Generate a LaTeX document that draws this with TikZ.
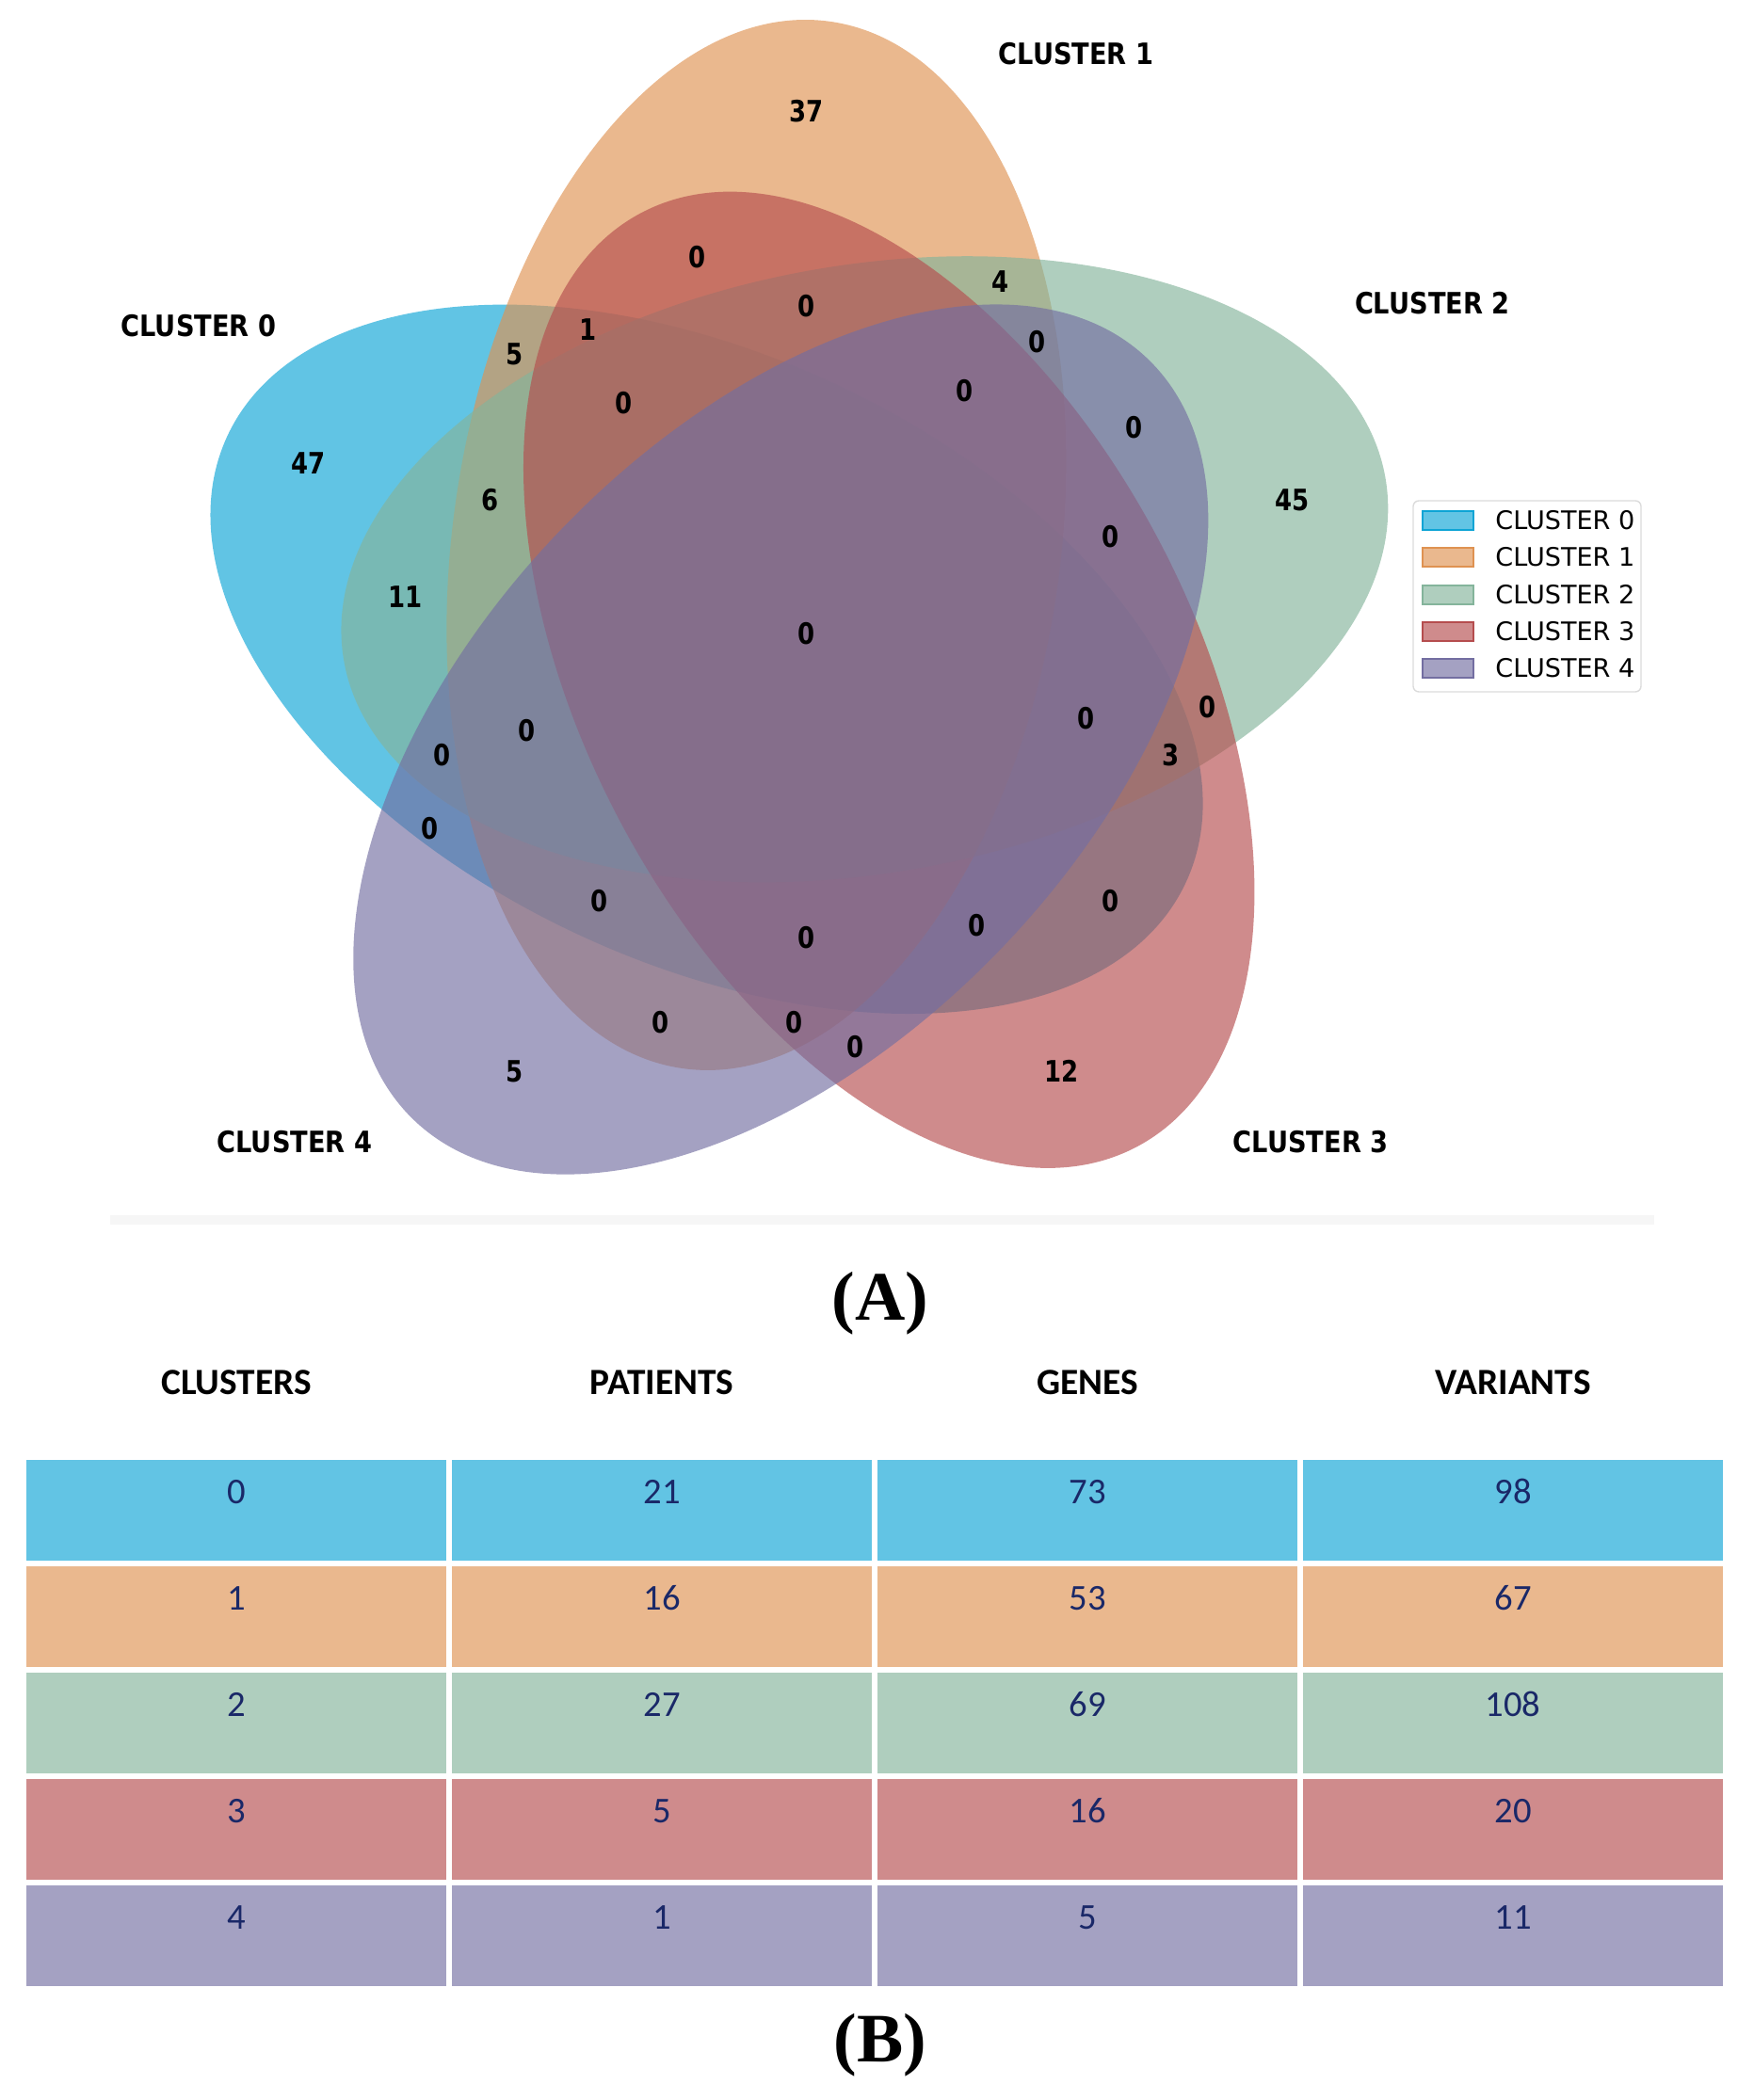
\documentclass[tikz,border=0pt]{standalone}
\usepackage{fontspec}
\setmainfont{Carlito}
\newfontfamily\vennfont[FakeStretch=0.83]{DejaVu Sans}
\newfontfamily\namefont[FakeStretch=0.87]{DejaVu Sans}
\newfontfamily\legfont{DejaVu Sans}
\newfontfamily\capfont{Liberation Serif}
\usetikzlibrary{positioning}
\usepackage{xcolor}

% set colours (drawn at 65% opacity) and the flat table colours
\definecolor{cl0}{RGB}{13,164,213}
\definecolor{cl1}{RGB}{223,146,81}
\definecolor{cl2}{RGB}{132,180,155}
\definecolor{cl3}{RGB}{181,77,78}
\definecolor{cl4}{RGB}{115,110,161}
\definecolor{tb0}{RGB}{98,196,228}
\definecolor{tb1}{RGB}{234,184,142}
\definecolor{tb2}{RGB}{175,206,190}
\definecolor{tb3}{RGB}{207,139,140}
\definecolor{tb4}{RGB}{164,161,194}
\definecolor{navy}{RGB}{26,40,104}
\definecolor{sepgray}{RGB}{246,246,246}

\begin{document}
\begin{tikzpicture}%
    [venn/.style={fill opacity=0.65},
    count/.style={font=\vennfont\bfseries\fontsize{8.9}{10}\selectfont, inner sep=1pt},
    setname/.style={font=\namefont\bfseries\fontsize{8.9}{10}\selectfont, inner sep=1pt},
    legframe/.style={draw=black!14, fill=white, rounded corners=0.06cm, minimum width=2.42cm, minimum height=2.03cm},
    legbox/.style={minimum width=0.54cm, minimum height=0.2cm, inner sep=0, line width=0.4pt},
    legtext/.style={font=\legfont\fontsize{7.7}{9}\selectfont, inner sep=0},
    head/.style={font=\bfseries\fontsize{11.2}{13}\selectfont},
    cell/.style={minimum width=4.46cm, minimum height=1.07cm, inner xsep=0, inner ysep=0,
                 text height=0.47cm, text depth=0.60cm, text=navy, font=\fontsize{11}{13}\selectfont},
    panel/.style={font=\capfont\bfseries\fontsize{21}{24}\selectfont}
    ]
    \useasboundingbox (0,0) rectangle (18.63,22.31);

    % ---- (A) five set venn ----
    \begin{scope}[shift={(1.98,9.51)}, x=12.91cm, y=12.91cm]
    \fill[venn, fill=cl0, shift={(0.428,0.449)}, rotate=155] (0,0) ellipse [x radius=0.435, y radius=0.25];
    \fill[venn, fill=cl1, shift={(0.469,0.543)}, rotate=82]  (0,0) ellipse [x radius=0.435, y radius=0.25];
    \fill[venn, fill=cl2, shift={(0.558,0.523)}, rotate=10]  (0,0) ellipse [x radius=0.435, y radius=0.25];
    \fill[venn, fill=cl3, shift={(0.578,0.432)}, rotate=118] (0,0) ellipse [x radius=0.435, y radius=0.25];
    \fill[venn, fill=cl4, shift={(0.489,0.383)}, rotate=46]  (0,0) ellipse [x radius=0.435, y radius=0.25];

    % REGION            POSITION         COUNT
    \node[count] (r00001) at (0.27,0.11) {5};
    \node[count] (r00010) at (0.72,0.11) {12};
    \node[count] (r00011) at (0.55,0.13) {0};
    \node[count] (r00100) at (0.91,0.58) {45};
    \node[count] (r00101) at (0.78,0.64) {0};
    \node[count] (r00110) at (0.84,0.41) {0};
    \node[count] (r00111) at (0.76,0.55) {0};
    \node[count] (r01000) at (0.51,0.90) {37};
    \node[count] (r01001) at (0.39,0.15) {0};
    \node[count] (r01010) at (0.42,0.78) {0};
    \node[count] (r01011) at (0.50,0.15) {0};
    \node[count] (r01100) at (0.67,0.76) {4};
    \node[count] (r01101) at (0.70,0.71) {0};
    \node[count] (r01110) at (0.51,0.74) {0};
    \node[count] (r01111) at (0.64,0.67) {0};
    \node[count] (r10000) at (0.10,0.61) {47};
    \node[count] (r10001) at (0.20,0.31) {0};
    \node[count] (r10010) at (0.76,0.25) {0};
    \node[count] (r10011) at (0.65,0.23) {0};
    \node[count] (r10100) at (0.18,0.50) {11};
    \node[count] (r10101) at (0.21,0.37) {0};
    \node[count] (r10110) at (0.81,0.37) {3};
    \node[count] (r10111) at (0.74,0.40) {0};
    \node[count] (r11000) at (0.27,0.70) {5};
    \node[count] (r11001) at (0.34,0.25) {0};
    \node[count] (r11010) at (0.33,0.72) {1};
    \node[count] (r11011) at (0.51,0.22) {0};
    \node[count] (r11100) at (0.25,0.58) {6};
    \node[count] (r11101) at (0.28,0.39) {0};
    \node[count] (r11110) at (0.36,0.66) {0};
    \node[count] (r11111) at (0.51,0.47) {0};

    \node[setname] (name0) at (0.010,0.723) {CLUSTER 0};
    \node[setname] (name1) at (0.732,0.947) {CLUSTER 1};
    \node[setname] (name2) at (1.025,0.742) {CLUSTER 2};
    \node[setname] (name3) at (0.925,0.052) {CLUSTER 3};
    \node[setname] (name4) at (0.089,0.052) {CLUSTER 4};
    \end{scope}

    % legend
    \node[legframe] (legend) at (16.22,15.975) {};
    \node[legbox, fill=tb0, draw=cl0] (p0) at (15.38,16.78) {};
    \node[legbox, fill=tb1, draw=cl1] (p1) at (15.38,16.39) {};
    \node[legbox, fill=tb2, draw=cl2] (p2) at (15.38,15.99) {};
    \node[legbox, fill=tb3, draw=cl3] (p3) at (15.38,15.60) {};
    \node[legbox, fill=tb4, draw=cl4] (p4) at (15.38,15.21) {};
    \node[legtext, right=0.22cm of p0] (t0) {CLUSTER 0};
    \node[legtext, right=0.22cm of p1] (t1) {CLUSTER 1};
    \node[legtext, right=0.22cm of p2] (t2) {CLUSTER 2};
    \node[legtext, right=0.22cm of p3] (t3) {CLUSTER 3};
    \node[legtext, right=0.22cm of p4] (t4) {CLUSTER 4};

    \fill[sepgray] (1.17,9.30) rectangle (17.57,9.40);
    \node[panel] (capA) at (9.35,8.46) {(A)};

    % ---- (B) table ----
    \node[head] (hclusters) at (2.51,7.62)  {CLUSTERS};
    \node[head] (hpatients) at (7.03,7.62)  {PATIENTS};
    \node[head] (hgenes)    at (11.55,7.62) {GENES};
    \node[head] (hvariants) at (16.07,7.62) {VARIANTS};

    \node[cell, fill=tb0] (c0a) at (2.51,6.265)  {0};
    \node[cell, fill=tb0] (c0b) at (7.03,6.265)  {21};
    \node[cell, fill=tb0] (c0c) at (11.55,6.265) {73};
    \node[cell, fill=tb0] (c0d) at (16.07,6.265) {98};

    \node[cell, fill=tb1] (c1a) at (2.51,5.135)  {1};
    \node[cell, fill=tb1] (c1b) at (7.03,5.135)  {16};
    \node[cell, fill=tb1] (c1c) at (11.55,5.135) {53};
    \node[cell, fill=tb1] (c1d) at (16.07,5.135) {67};

    \node[cell, fill=tb2] (c2a) at (2.51,4.005)  {2};
    \node[cell, fill=tb2] (c2b) at (7.03,4.005)  {27};
    \node[cell, fill=tb2] (c2c) at (11.55,4.005) {69};
    \node[cell, fill=tb2] (c2d) at (16.07,4.005) {108};

    \node[cell, fill=tb3] (c3a) at (2.51,2.875)  {3};
    \node[cell, fill=tb3] (c3b) at (7.03,2.875)  {5};
    \node[cell, fill=tb3] (c3c) at (11.55,2.875) {16};
    \node[cell, fill=tb3] (c3d) at (16.07,2.875) {20};

    \node[cell, fill=tb4] (c4a) at (2.51,1.745)  {4};
    \node[cell, fill=tb4] (c4b) at (7.03,1.745)  {1};
    \node[cell, fill=tb4] (c4c) at (11.55,1.745) {5};
    \node[cell, fill=tb4] (c4d) at (16.07,1.745) {11};

    \node[panel] (capB) at (9.35,0.58) {(B)};
  \end{tikzpicture}
\end{document}
